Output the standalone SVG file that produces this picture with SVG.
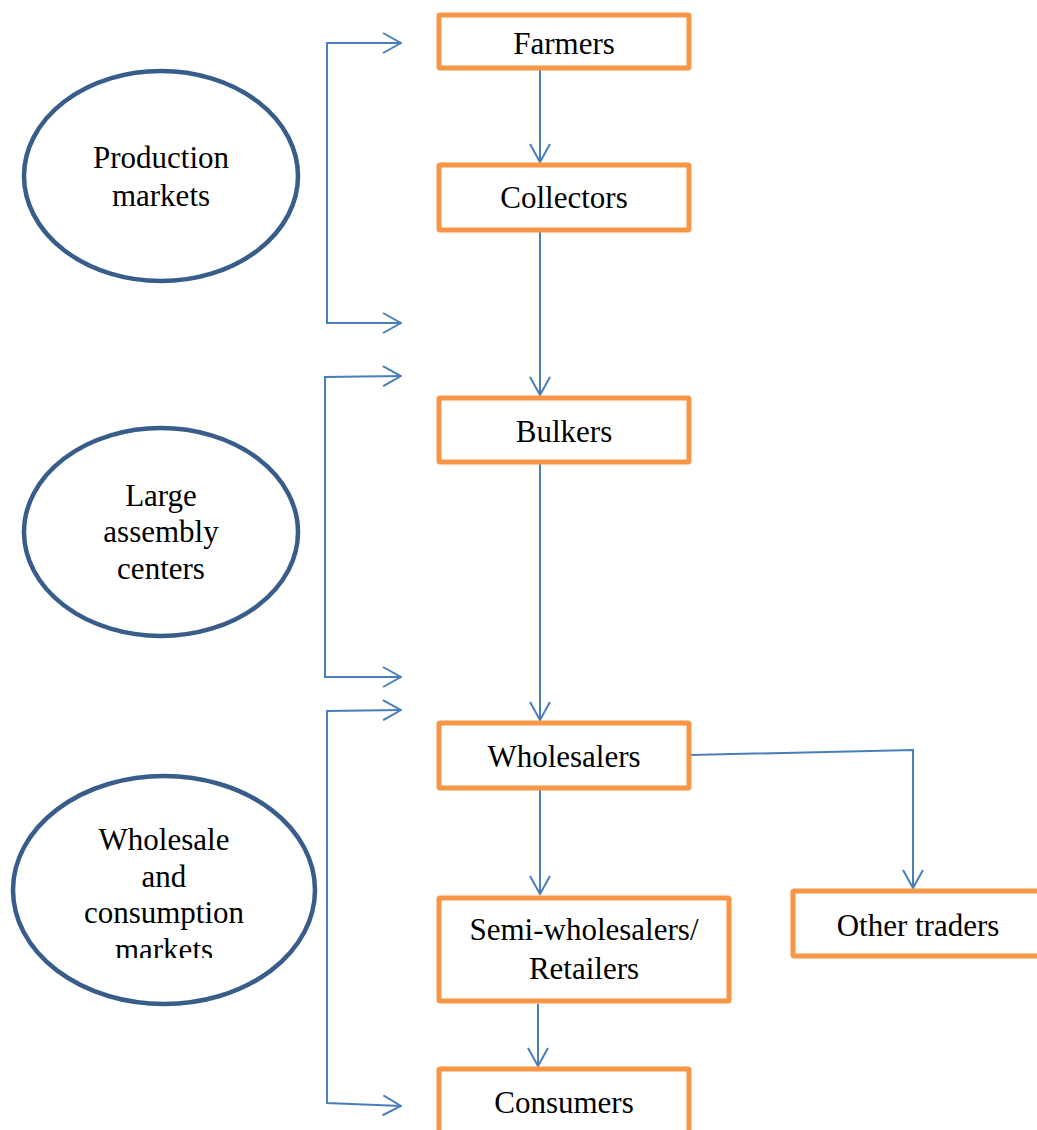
<svg xmlns="http://www.w3.org/2000/svg" width="1037" height="1130" viewBox="0 0 1037 1130">
  <style>
    .box { fill: #ffffff; stroke: #F79646; stroke-width: 5; }
    .oval { fill: #ffffff; stroke: #385D8A; stroke-width: 4.5; }
    .lbl { font-family: "Liberation Serif", "Times New Roman", serif; font-size: 31px; fill: #000000; text-anchor: middle; }
    .wire { fill: none; stroke: #4A7EBB; stroke-width: 2; }
  </style>
  <defs>
    <marker id="chev" viewBox="0 0 20 22" refX="19" refY="11" markerWidth="20" markerHeight="22" markerUnits="userSpaceOnUse" orient="auto-start-reverse">
      <path d="M1,1 L19,11 L1,21" fill="none" stroke="#4A7EBB" stroke-width="2"/>
    </marker>
    <clipPath id="ovalClip3">
      <rect x="0" y="780" width="330" height="178"/>
    </clipPath>
  </defs>
  <rect width="1037" height="1130" fill="#ffffff"/>

  <!-- connectors -->
  <g id="connectors">
    <path class="wire" d="M540,70 L540,162" marker-end="url(#chev)"/>
    <path class="wire" d="M540,232 L540,395" marker-end="url(#chev)"/>
    <path class="wire" d="M540,464 L540,720" marker-end="url(#chev)"/>
    <path class="wire" d="M540,790 L540,894" marker-end="url(#chev)"/>
    <path class="wire" d="M538,1004 L538,1066" marker-end="url(#chev)"/>
    <path class="wire" d="M691,755 L913,750 L913,888" marker-end="url(#chev)"/>
    <!-- market-level brackets -->
    <path class="wire" d="M401,43 L327,43 L327,323 L401,323" marker-start="url(#chev)" marker-end="url(#chev)"/>
    <path class="wire" d="M401,376 L325,377 L325,677 L401,677" marker-start="url(#chev)" marker-end="url(#chev)"/>
    <path class="wire" d="M401,710 L327,711 L327,1103 L401,1106" marker-start="url(#chev)" marker-end="url(#chev)"/>
  </g>

  <!-- market levels -->
  <g id="production-markets">
    <ellipse class="oval" cx="161" cy="176" rx="137" ry="105"/>
    <text class="lbl" x="161" y="168">Production</text>
    <text class="lbl" x="161" y="206">markets</text>
  </g>
  <g id="large-assembly-centers">
    <ellipse class="oval" cx="161" cy="532" rx="137" ry="104"/>
    <text class="lbl" x="161" y="506">Large</text>
    <text class="lbl" x="161" y="542">assembly</text>
    <text class="lbl" x="161" y="579">centers</text>
  </g>
  <g id="wholesale-consumption-markets">
    <ellipse class="oval" cx="164" cy="890" rx="151" ry="114"/>
    <text class="lbl" x="164" y="850">Wholesale</text>
    <text class="lbl" x="164" y="887">and</text>
    <text class="lbl" x="164" y="923">consumption</text>
    <text class="lbl" x="164" y="960" clip-path="url(#ovalClip3)">markets</text>
  </g>

  <!-- actors -->
  <g id="farmers">
    <rect class="box" x="439" y="15" width="250" height="53" rx="1"/>
    <text class="lbl" x="564" y="54">Farmers</text>
  </g>
  <g id="collectors">
    <rect class="box" x="439" y="165" width="250" height="65" rx="1"/>
    <text class="lbl" x="564" y="208">Collectors</text>
  </g>
  <g id="bulkers">
    <rect class="box" x="439" y="398" width="250" height="64" rx="1"/>
    <text class="lbl" x="564" y="442">Bulkers</text>
  </g>
  <g id="wholesalers">
    <rect class="box" x="439" y="723" width="250" height="65" rx="1"/>
    <text class="lbl" x="564" y="767">Wholesalers</text>
  </g>
  <g id="semi-wholesalers-retailers">
    <rect class="box" x="439" y="898" width="290" height="103" rx="1"/>
    <text class="lbl" x="584" y="940">Semi-wholesalers/</text>
    <text class="lbl" x="584" y="979">Retailers</text>
  </g>
  <g id="other-traders">
    <rect class="box" x="793" y="891" width="260" height="65" rx="1"/>
    <text class="lbl" x="918" y="936">Other traders</text>
  </g>
  <g id="consumers">
    <rect class="box" x="439" y="1069" width="250" height="100" rx="1"/>
    <text class="lbl" x="564" y="1113">Consumers</text>
  </g>
</svg>
